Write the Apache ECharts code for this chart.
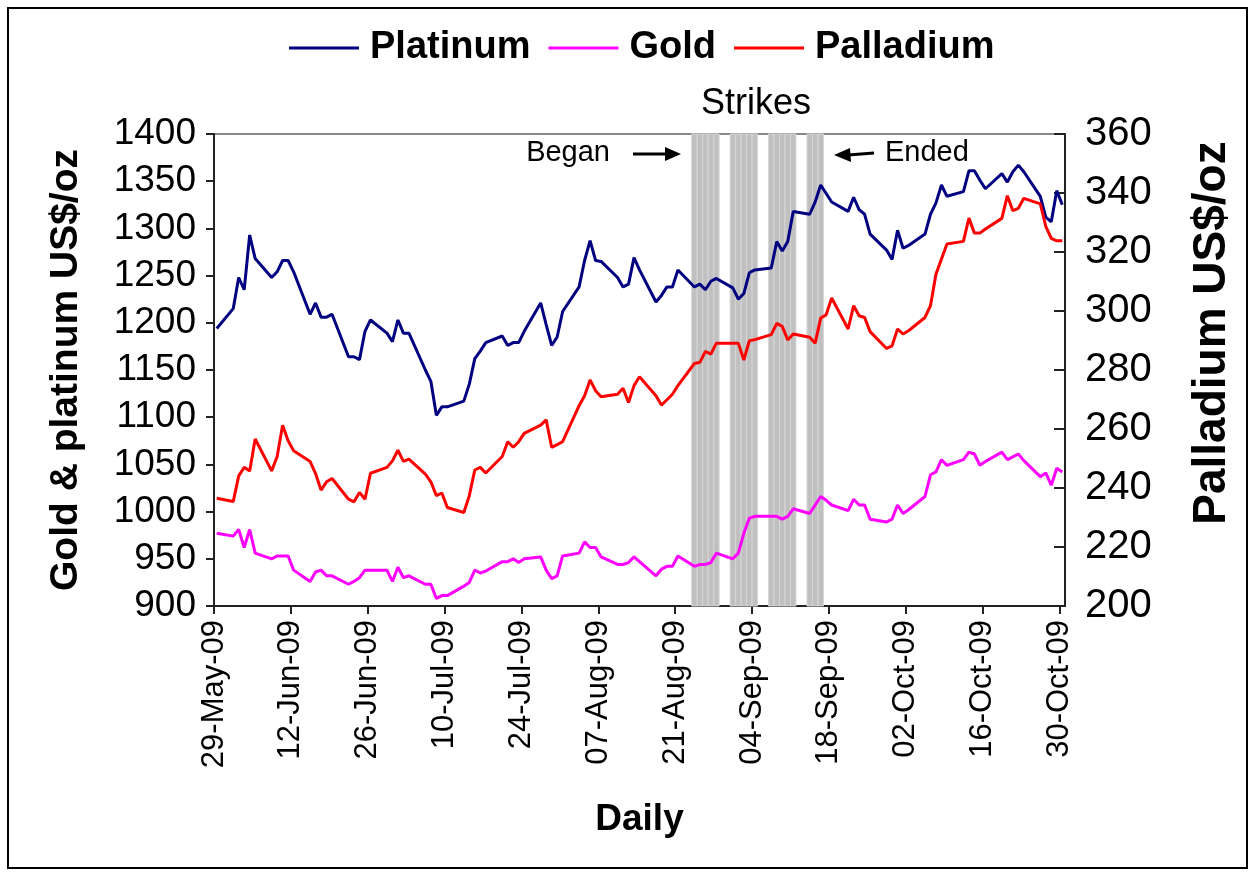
<!DOCTYPE html>
<html>
<head>
<meta charset="utf-8">
<title>Platinum, Gold, Palladium</title>
<script src="https://cdn.jsdelivr.net/npm/echarts@6/dist/echarts.min.js"></script>
<style>
  html, body { margin: 0; padding: 0; background: #fff; }
  #chart { width: 1255px; height: 876px; }
</style>
</head>
<body>
<div id="chart"></div>
<script>
// trading days
var dates = [
  '2009-05-29',
  '2009-06-01', '2009-06-02', '2009-06-03', '2009-06-04', '2009-06-05',
  '2009-06-08', '2009-06-09', '2009-06-10', '2009-06-11', '2009-06-12',
  '2009-06-15', '2009-06-16', '2009-06-17', '2009-06-18', '2009-06-19',
  '2009-06-22', '2009-06-23', '2009-06-24', '2009-06-25', '2009-06-26',
  '2009-06-29', '2009-06-30', '2009-07-01', '2009-07-02', '2009-07-03',
  '2009-07-06', '2009-07-07', '2009-07-08', '2009-07-09', '2009-07-10',
  '2009-07-13', '2009-07-14', '2009-07-15', '2009-07-16', '2009-07-17',
  '2009-07-20', '2009-07-21', '2009-07-22', '2009-07-23', '2009-07-24',
  '2009-07-27', '2009-07-28', '2009-07-29', '2009-07-30', '2009-07-31',
  '2009-08-03', '2009-08-04', '2009-08-05', '2009-08-06', '2009-08-07',
  '2009-08-10', '2009-08-11', '2009-08-12', '2009-08-13', '2009-08-14',
  '2009-08-17', '2009-08-18', '2009-08-19', '2009-08-20', '2009-08-21',
  '2009-08-24', '2009-08-25', '2009-08-26', '2009-08-27', '2009-08-28',
  '2009-08-31', '2009-09-01', '2009-09-02', '2009-09-03', '2009-09-04',
  '2009-09-07', '2009-09-08', '2009-09-09', '2009-09-10', '2009-09-11',
  '2009-09-14', '2009-09-15', '2009-09-16', '2009-09-17', '2009-09-18',
  '2009-09-21', '2009-09-22', '2009-09-23', '2009-09-24', '2009-09-25',
  '2009-09-28', '2009-09-29', '2009-09-30', '2009-10-01', '2009-10-02',
  '2009-10-05', '2009-10-06', '2009-10-07', '2009-10-08', '2009-10-09',
  '2009-10-12', '2009-10-13', '2009-10-14', '2009-10-15', '2009-10-16',
  '2009-10-19', '2009-10-20', '2009-10-21', '2009-10-22', '2009-10-23',
  '2009-10-26', '2009-10-27', '2009-10-28', '2009-10-29', '2009-10-30'
];

var platinum = [
  1194,
  1215, 1248, 1235, 1293, 1268,
  1248, 1254, 1266, 1266, 1254,
  1209, 1221, 1206, 1206, 1209,
  1164, 1164, 1161, 1191, 1203,
  1189, 1180, 1203, 1189, 1189,
  1150, 1138, 1102, 1111, 1111,
  1117, 1135, 1162, 1170, 1179,
  1186, 1176, 1179, 1179, 1191,
  1221, 1198, 1176, 1185, 1212,
  1238, 1266, 1287, 1266, 1265,
  1248, 1238, 1241, 1269, 1256,
  1222, 1229, 1238, 1238, 1256,
  1238, 1241, 1235, 1244, 1247,
  1237, 1225, 1231, 1253, 1256,
  1258, 1286, 1276, 1286, 1318,
  1315, 1328, 1346, 1337, 1328,
  1318, 1333, 1320, 1315, 1294,
  1277, 1267, 1298, 1279, 1282,
  1294, 1315, 1327, 1346, 1334,
  1339, 1361, 1361, 1351, 1342,
  1358, 1349, 1360, 1367, 1360,
  1334, 1312, 1307, 1340, 1325
];

var gold = [
  977,
  974, 981, 962, 981, 956,
  950, 953, 953, 953, 938,
  926, 936, 938, 932, 932,
  923, 926, 930, 938, 938,
  938, 926, 941, 930, 932,
  923, 923, 908, 911, 911,
  921, 925, 938, 935, 937,
  947, 947, 950, 946, 950,
  952, 938, 929, 932, 953,
  956, 968, 962, 962, 952,
  944, 944, 946, 952, 947,
  932, 939, 942, 942, 953,
  942, 944, 944, 946, 956,
  950, 956, 977, 993, 995,
  995, 995, 992, 995, 1003,
  998, 1007, 1016, 1012, 1007,
  1001, 1013, 1007, 1007, 992,
  989, 992, 1007, 998, 1002,
  1016, 1039, 1042, 1055, 1049,
  1055, 1063, 1061, 1049, 1053,
  1063, 1055, 1058, 1061, 1054,
  1037, 1041, 1028, 1046, 1042
];

var palladium = [
  236.5,
  235.4, 244.1, 247, 245.8, 256.6,
  245.8, 250.7, 261.3, 256, 252.6,
  249, 244.9, 239.3, 242.1, 243.2,
  236.2, 235.3, 238.5, 236.2, 245,
  247, 249.2, 252.8, 249, 249.8,
  244.7, 242.1, 237.4, 238.3, 233.4,
  231.7, 237.4, 246.1, 247, 245.1,
  250.7, 255.7, 253.8, 255.7, 258.5,
  261.3, 263.1, 253.8, 254.7, 255.7,
  267.9, 271.3, 276.6, 273, 270.9,
  271.8, 273.8, 269, 274.7, 277.7,
  271.3, 268.1, 269.9, 271.8, 274.7,
  282.2, 282.6, 286.3, 285.4, 289.1,
  289.1, 289.1, 283.4, 289.9, 290.3,
  292, 295.8, 294.8, 290.2, 292.2,
  291.1, 289.1, 297.6, 298.7, 304.4,
  293.9, 301.8, 298.4, 297.8, 293,
  287.3, 288.2, 293.9, 292.2, 293.3,
  297.8, 301.8, 312.5, 317.6, 322.7,
  323.6, 331.5, 326.4, 326.4, 327.8,
  331.4, 339.1, 334, 334.8, 338.2,
  336.3, 328.7, 324.6, 323.8, 323.8
];

// days with strikes (grey columns)
var strikeDays = [
  '2009-08-24', '2009-08-25', '2009-08-26', '2009-08-27', '2009-08-28',
  '2009-08-31', '2009-09-01', '2009-09-02', '2009-09-03', '2009-09-04',
  '2009-09-07', '2009-09-08', '2009-09-09', '2009-09-10', '2009-09-11',
  '2009-09-14', '2009-09-15', '2009-09-16'
];

var xTickLabels = ['29-May-09', '12-Jun-09', '26-Jun-09', '10-Jul-09', '24-Jul-09', '07-Aug-09',
  '21-Aug-09', '04-Sep-09', '18-Sep-09', '02-Oct-09', '16-Oct-09', '30-Oct-09'];
var tickStep = 14; // days between x labels

var FONT = 'Liberation Sans, Arial, sans-serif';

// x position = days since first date (middle of the day)
function dayOf(d) {
  return Math.round((Date.parse(d) - Date.parse(dates[0])) / 864e5);
}
function pairs(vals) {
  return dates.map(function (d, i) { return [dayOf(d) + 0.5, vals[i]]; });
}

var tickValues = xTickLabels.map(function (t, i) { return i * tickStep; });

var strikeAreas = strikeDays.map(function (d) {
  var x = dayOf(d);
  return [{ xAxis: x }, { xAxis: x + 1 }];
});

var chart = echarts.init(document.getElementById('chart'));

var option = {
  animation: false,
  backgroundColor: '#fff',
  textStyle: { fontFamily: FONT },
  legend: {
    left: 284,
    top: 24,
    icon: 'rect',
    itemWidth: 70,
    itemHeight: 3,
    itemGap: 18,
    textStyle: { fontSize: 38, fontWeight: 'bold', color: '#000', fontFamily: FONT, padding: [0, 0, 0, 6] },
    data: ['Platinum', 'Gold', 'Palladium']
  },
  grid: {
    left: 214, right: 190, top: 134, bottom: 270,
    show: true, borderColor: '#888', borderWidth: 2
  },
  xAxis: {
    type: 'value',
    min: 0,
    max: 155,
    name: 'Daily',
    nameLocation: 'middle',
    nameGap: 195,
    nameTextStyle: { fontSize: 37, fontWeight: 'bold', color: '#000' },
    splitLine: { show: false },
    axisLine: { lineStyle: { color: '#222', width: 2 } },
    axisTick: { customValues: tickValues, length: 8, lineStyle: { color: '#222', width: 2 } },
    axisLabel: {
      customValues: tickValues,
      rotate: 90,
      margin: 14,
      fontSize: 31,
      color: '#000',
      formatter: function (v) { return xTickLabels[Math.round(v / tickStep)] || ''; }
    }
  },
  yAxis: [
    {
      type: 'value',
      min: 900, max: 1400, interval: 50,
      name: 'Gold & platinum US$/oz',
      nameLocation: 'middle',
      nameRotate: 90,
      nameGap: 128,
      nameTextStyle: { fontSize: 39, fontWeight: 'bold', color: '#000' },
      splitLine: { show: false },
      axisLine: { show: true, lineStyle: { color: '#222', width: 2 } },
      axisTick: { show: true, length: 8, lineStyle: { color: '#222', width: 2 } },
      axisLabel: { fontSize: 37, color: '#000', margin: 18, formatter: function (v) { return String(v); } }
    },
    {
      type: 'value',
      position: 'right',
      min: 200, max: 360, interval: 20,
      splitLine: { show: false },
      axisLine: { show: true, lineStyle: { color: '#222', width: 2 } },
      axisTick: { show: true, inside: true, length: 11, lineStyle: { color: '#222', width: 2 } },
      axisLabel: { fontSize: 40, color: '#000', margin: 20 }
    }
  ],
  series: [
    {
      name: 'strikes',
      type: 'line',
      data: [],
      silent: true,
      z: 1,
      markArea: {
        silent: true,
        itemStyle: { color: '#c0c0c0', borderColor: '#d6d6d6', borderWidth: 1 },
        data: strikeAreas
      }
    },
    {
      name: 'Platinum',
      type: 'line',
      symbol: 'none',
      color: '#000080',
      lineStyle: { width: 3, color: '#000080' },
      z: 3,
      data: pairs(platinum)
    },
    {
      name: 'Gold',
      type: 'line',
      symbol: 'none',
      color: '#ff00ff',
      lineStyle: { width: 3, color: '#ff00ff' },
      z: 3,
      data: pairs(gold)
    },
    {
      name: 'Palladium',
      type: 'line',
      yAxisIndex: 1,
      symbol: 'none',
      color: '#ff0000',
      lineStyle: { width: 3, color: '#ff0000' },
      z: 3,
      data: pairs(palladium)
    }
  ],
  graphic: [
    // outer frame
    { type: 'rect', shape: { x: 8, y: 8, width: 1239, height: 860 }, style: { fill: null, stroke: '#000', lineWidth: 2 }, z: 0 },
    // right axis title (larger than the left one in the original)
    { type: 'text', x: 1212, y: 333, rotation: Math.PI / 2, style: { text: 'Palladium US$/oz', font: 'bold 46px ' + FONT, fill: '#000', textAlign: 'center', textVerticalAlign: 'middle' } },
    { type: 'text', x: 756, y: 104, style: { text: 'Strikes', font: '36px ' + FONT, fill: '#000', textAlign: 'center', textVerticalAlign: 'middle' } },
    { type: 'text', x: 610, y: 153, style: { text: 'Began', font: '29px ' + FONT, fill: '#000', textAlign: 'right', textVerticalAlign: 'middle' } },
    { type: 'line', shape: { x1: 633, y1: 154, x2: 667, y2: 154 }, style: { stroke: '#000', lineWidth: 3 } },
    { type: 'polygon', shape: { points: [[665, 147], [681, 154], [665, 161]] }, style: { fill: '#000' } },
    { type: 'text', x: 885, y: 153, style: { text: 'Ended', font: '29px ' + FONT, fill: '#000', textAlign: 'left', textVerticalAlign: 'middle' } },
    { type: 'line', shape: { x1: 874, y1: 153, x2: 848, y2: 155 }, style: { stroke: '#000', lineWidth: 3 } },
    { type: 'polygon', shape: { points: [[850, 148], [834, 155], [851, 162]] }, style: { fill: '#000' } }
  ]
};

chart.setOption(option);
</script>
</body>
</html>
